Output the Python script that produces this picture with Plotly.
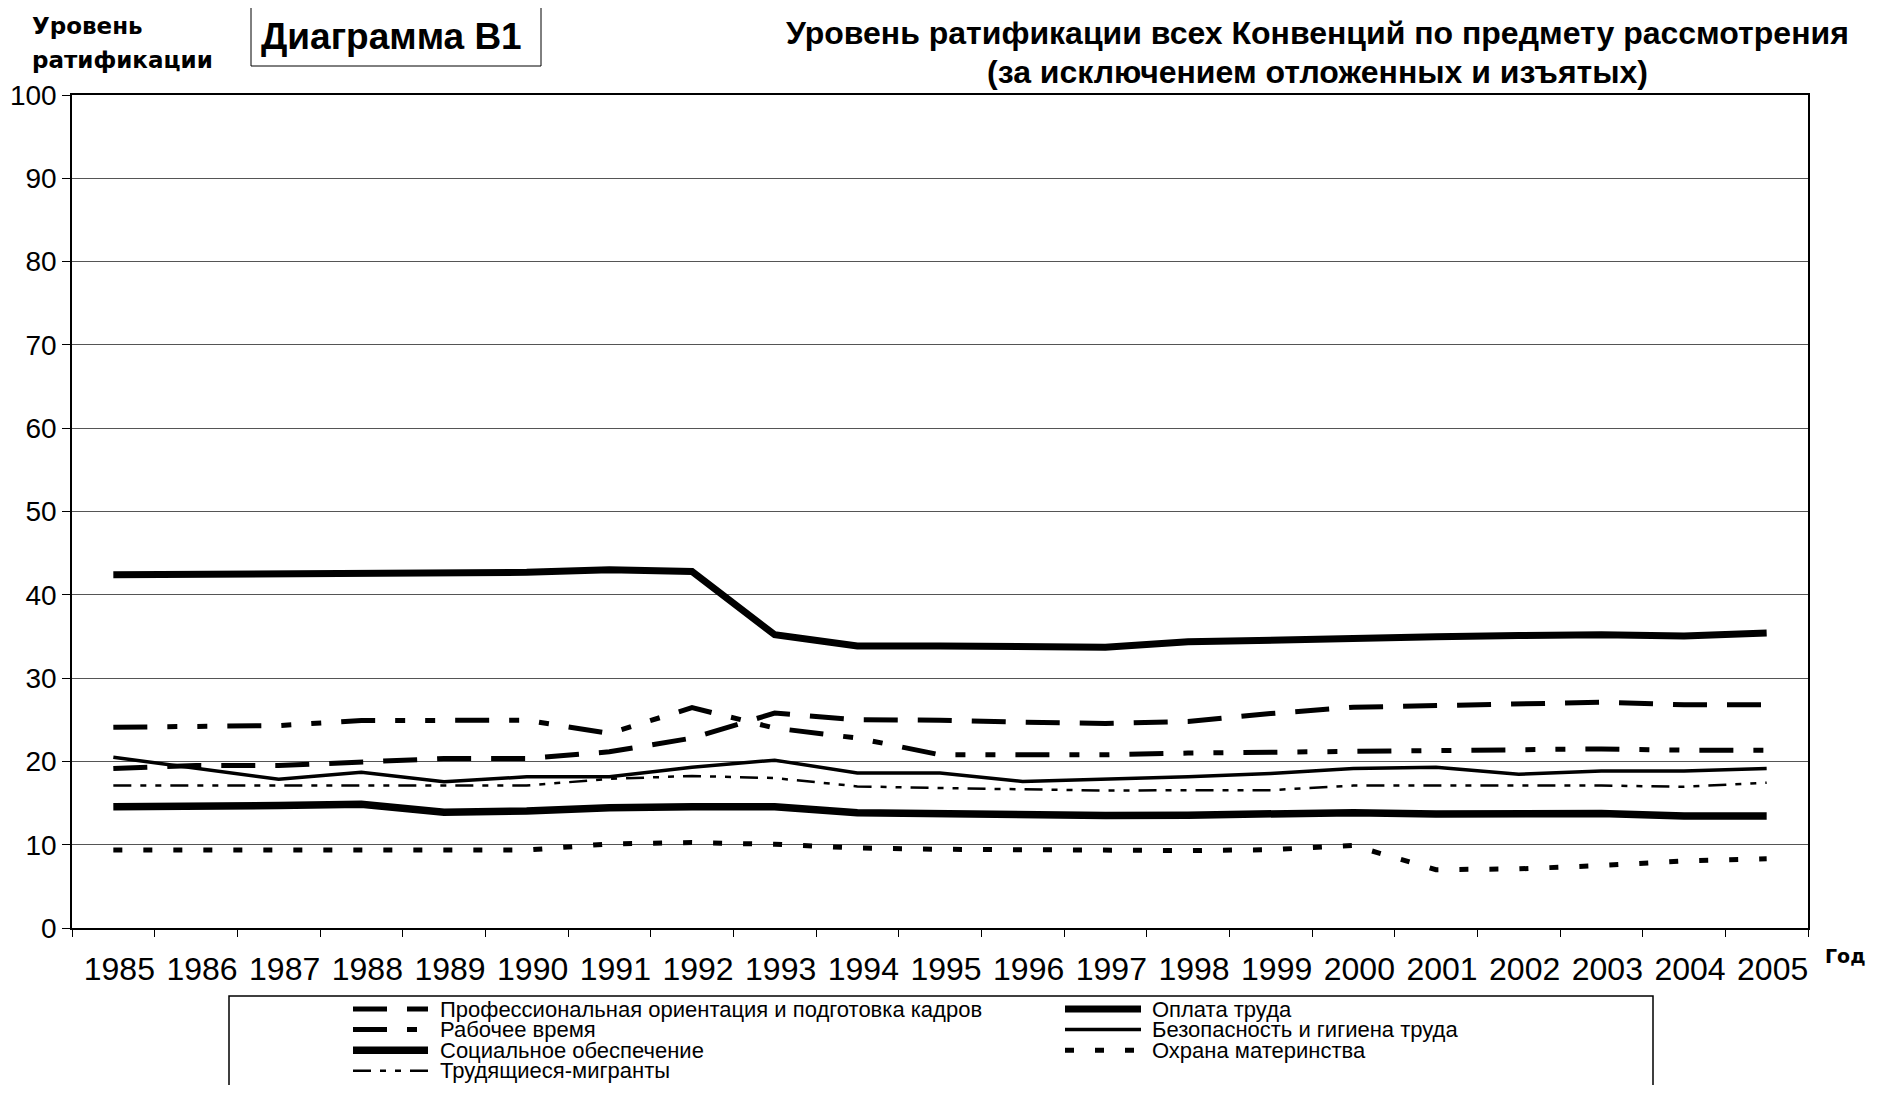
import plotly.graph_objects as go

# ---------------- data ----------------
years = [str(y) for y in range(1985, 2006)]

prof = [19.15, 19.5, 19.5, 19.9, 20.35, 20.35, 21.15, 22.8, 25.8, 25.0, 24.95,
        24.7, 24.55, 24.8, 25.75, 26.5, 26.7, 26.95, 27.1, 26.8, 26.8]
pay = [42.4, 42.45, 42.55, 42.7, 42.7, 42.7, 43.0, 42.8, 35.2, 33.85, 33.85,
       33.7, 33.7, 34.35, 34.6, 34.85, 34.95, 35.1, 35.2, 35.05, 35.4]
work_time = [24.1, 24.15, 24.3, 24.9, 24.95, 24.95, 23.35, 26.45, 24.0, 22.8, 20.8,
             20.8, 20.8, 21.0, 21.1, 21.3, 21.3, 21.45, 21.5, 21.35, 21.35]
safety = [20.5, 19.15, 17.85, 18.7, 17.55, 18.15, 18.15, 19.3, 20.15, 18.6, 18.6,
          17.6, 17.85, 18.15, 18.55, 19.15, 19.3, 18.45, 18.85, 18.85, 19.15]
social = [14.55, 14.55, 14.7, 14.85, 13.9, 14.05, 14.45, 14.55, 14.55, 13.85, 13.7,
          13.55, 13.5, 13.55, 13.65, 13.85, 13.7, 13.7, 13.75, 13.45, 13.45]
maternity = [9.35, 9.35, 9.35, 9.35, 9.35, 9.35, 10.1, 10.25, 10.05, 9.6, 9.45,
             9.4, 9.3, 9.3, 9.4, 9.9, 7.0, 7.1, 7.5, 8.05, 8.3]
migrants = [17.1, 17.1, 17.1, 17.1, 17.1, 17.1, 17.9, 18.25, 18.0, 17.0, 16.8,
            16.65, 16.5, 16.55, 16.55, 17.1, 17.1, 17.1, 17.1, 16.95, 17.45]

names = ["Профессиональная ориентация и подготовка кадров", "Оплата труда",
         "Рабочее время", "Безопасность и гигиена труда",
         "Социальное обеспечение", "Охрана материнства", "Трудящиеся-мигранты"]
series = [prof, pay, work_time, safety, social, maternity, migrants]
widths = [5, 7, 5, 3.5, 7.5, 5, 2.5]
dashes = ["34px,20px", "solid", "34px,20px,10px,20px,10px,20px", "solid", "solid",
          "9px,21px", "18px,9px,6px,9px,6px,9px"]

y_ticks = list(range(0, 101, 10))

title_lines = ["Уровень ратификации всех Конвенций по предмету рассмотрения",
               "(за исключением отложенных и изъятых)"]

# ---------------- geometry (page pixels; page body has an 8px margin) ----------------
OFF = 8
PAGE_W, PAGE_H = 1878, 1093
W, H = PAGE_W - 2 * OFF, PAGE_H - 2 * OFF       # no scrollbars
L, R, T, B = 72, 1808, 95, 928                  # plot area in page pixels


def px(xp):
    return (xp - L) / (R - L)


def py(yp):
    return (B - yp) / (B - T)


FONT = "Liberation Sans, Arial, sans-serif"
HEAVY = "DejaVu Sans"

fig = go.Figure()
for name, vals, w, d in zip(names, series, widths, dashes):
    fig.add_trace(go.Scatter(x=years, y=vals, name=name, mode="lines",
                             line=dict(color="black", width=w, dash=d),
                             showlegend=False))

shapes = []
annotations = []

# legend box (runs off the bottom edge as in the original)
shapes.append(dict(type="rect", xref="paper", yref="paper",
                   x0=px(229), x1=px(1653), y0=py(1110), y1=py(996),
                   line=dict(color="black", width=1.5), fillcolor="white", layer="below"))
# legend entries (row-major, two columns)
col_sym = [(353, 428, 438), (1065, 1141, 1150)]
for i, (name, w, d) in enumerate(zip(names, widths, dashes)):
    col = i % 2
    row = i // 2
    yc = 1009 + 20.6 * row
    x0, x1, xt = col_sym[col]
    shapes.append(dict(type="line", xref="paper", yref="paper",
                       x0=px(x0), x1=px(x1), y0=py(yc), y1=py(yc),
                       line=dict(color="black", width=w, dash=d)))
    annotations.append(dict(xref="paper", yref="paper", x=px(xt), y=py(yc),
                            xanchor="left", yanchor="middle", text=name, showarrow=False,
                            font=dict(family=FONT, size=22, color="black")))

# "Диаграмма В1" box
shapes.append(dict(type="rect", xref="paper", yref="paper",
                   x0=px(251), x1=px(541), y0=py(66), y1=py(6),
                   line=dict(color="black", width=1)))
annotations.append(dict(xref="paper", yref="paper", x=px(391), y=py(37),
                        xanchor="center", yanchor="middle", text="Диаграмма В1",
                        showarrow=False,
                        font=dict(family=FONT, size=37, color="black", weight="bold")))

# y-axis caption
annotations.append(dict(xref="paper", yref="paper", x=px(30), y=py(26),
                        xanchor="left", yanchor="middle", text="Уровень",
                        showarrow=False,
                        font=dict(family=HEAVY, size=23, color="black", weight="bold")))
annotations.append(dict(xref="paper", yref="paper", x=px(30), y=py(60),
                        xanchor="left", yanchor="middle", text="ратификации",
                        showarrow=False,
                        font=dict(family=HEAVY, size=23, color="black", weight="bold")))
# x-axis caption
annotations.append(dict(xref="paper", yref="paper", x=px(1868), y=py(956),
                        xanchor="right", yanchor="middle", text="Год",
                        showarrow=False,
                        font=dict(family=HEAVY, size=19, color="black", weight="bold")))
# title
for yc, txt in zip([33, 72], title_lines):
    annotations.append(dict(xref="paper", yref="paper", x=px(1317), y=py(yc),
                            xanchor="center", yanchor="middle", text=txt,
                            showarrow=False,
                            font=dict(family=FONT, size=32, color="black", weight="bold")))

fig.update_layout(
    width=W, height=H,
    margin=dict(l=L - OFF, r=(PAGE_W - OFF) - R, t=T - OFF, b=(PAGE_H - OFF) - B,
                pad=0, autoexpand=False),
    paper_bgcolor="white", plot_bgcolor="white",
    font=dict(family=FONT, color="black"),
    shapes=shapes, annotations=annotations,
    showlegend=False,
)
fig.update_xaxes(type="category", range=[-0.5, 20.5], tickson="boundaries",
                 ticks="outside", ticklen=7, tickcolor="black", tickwidth=1,
                 showgrid=False, showline=True, linecolor="black", linewidth=1.5,
                 mirror=True, tickfont=dict(family=FONT, size=32, color="black"),
                 ticklabelshift=6, ticklabelstandoff=12, zeroline=False,
                 automargin=False)
fig.update_yaxes(range=[0, 100], tickvals=y_ticks, ticks="outside", ticklen=8,
                 tickcolor="black", tickwidth=1, showgrid=True, gridcolor="#555555",
                 gridwidth=1, showline=True, linecolor="black", linewidth=1.5,
                 mirror=True, zeroline=False, automargin=False,
                 tickfont=dict(family=FONT, size=28, color="black"))

fig.write_html("out.html")
